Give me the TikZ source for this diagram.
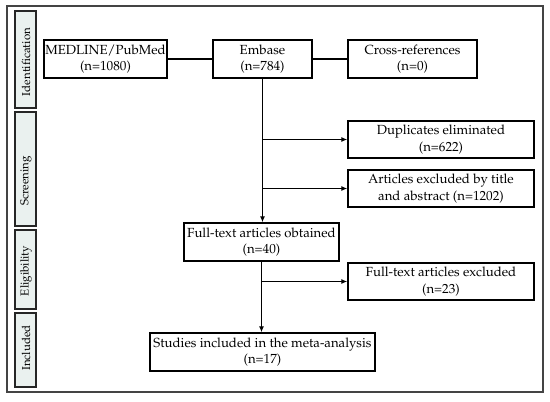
\documentclass[tikz,border=0pt]{standalone}
\usepackage[T1]{fontenc}
\usepackage{mathpazo}
\usetikzlibrary{arrows.meta}
\definecolor{stagefill}{HTML}{EAF1EF}
\definecolor{framegray}{HTML}{444444}
\tikzset{
  box/.style={draw=black, line width=1.4pt, align=center, inner sep=0pt, font=\fontsize{13.2}{16.5}\selectfont},
  stagebox/.style={draw=black!85, line width=1.4pt, fill=stagefill, inner sep=0pt},
  stagetext/.style={rotate=90, font=\fontsize{11.5}{14}\selectfont},
  conn/.style={line width=1.4pt},
  arr/.style={line width=1.4pt, -{Latex[length=6pt,width=5pt]}}
}
\begin{document}
\begin{tikzpicture}[x=1pt,y=-1pt]
\useasboundingbox (0,0) rectangle (550,402);
\draw[framegray, line width=1.3pt] (7,6) rectangle (543,392);
% stage labels
\node[stagebox, minimum width=21pt, minimum height=97pt] (ident) at (25.5,59.5) {};
\node[stagetext] (identt) at (26,62) {Identification};
\node[stagebox, minimum width=21pt, minimum height=114pt] (scr) at (25.5,169) {};
\node[stagetext] (scrt) at (26,181) {Screening};
\node[stagebox, minimum width=21pt, minimum height=79pt] (elig) at (25.5,269.5) {};
\node[stagetext] (eligt) at (26,271) {Eligibility};
\node[stagebox, minimum width=21pt, minimum height=74pt] (incl) at (25.5,350) {};
\node[stagetext] (inclt) at (26,348) {Included};
% boxes
\node[box, minimum width=123pt, minimum height=38pt] (med) at (105.5,59) {MEDLINE/PubMed\\(n=1080)};
\node[box, minimum width=99pt, minimum height=38pt] (emb) at (262.5,59) {Embase\\(n=784)};
\node[box, minimum width=129pt, minimum height=38pt] (cross) at (412.5,59) {Cross-references\\(n=0)};
\node[box, minimum width=186pt, minimum height=37pt] (dup) at (441,139.5) {Duplicates eliminated\\(n=622)};
\node[box, minimum width=186pt, minimum height=37pt] (art) at (441,188.5) {Articles excluded by title\\and abstract (n=1202)};
\node[box, minimum width=155pt, minimum height=38pt] (fto) at (261.5,242) {Full-text articles obtained\\(n=40)};
\node[box, minimum width=186pt, minimum height=37pt] (fte) at (441,281.5) {Full-text articles excluded\\(n=23)};
\node[box, minimum width=225pt, minimum height=38pt] (stud) at (262.5,352) {Studies included in the meta-analysis\\(n=17)};
% connectors
\coordinate (b1) at (emb.south |- dup.west);
\coordinate (b2) at (emb.south |- art.west);
\coordinate (b3) at (fto.south |- fte.west);
\draw[conn] (med.east) -- (emb.west);
\draw[conn] (emb.east) -- (cross.west);
\draw[arr] (emb.south) -- (emb.south |- fto.north);
\draw[arr] (b1) -- (dup.west);
\draw[arr] (b2) -- (art.west);
\draw[arr] (fto.south) -- (fto.south |- stud.north);
\draw[arr] (b3) -- (fte.west);
\end{tikzpicture}
\end{document}
